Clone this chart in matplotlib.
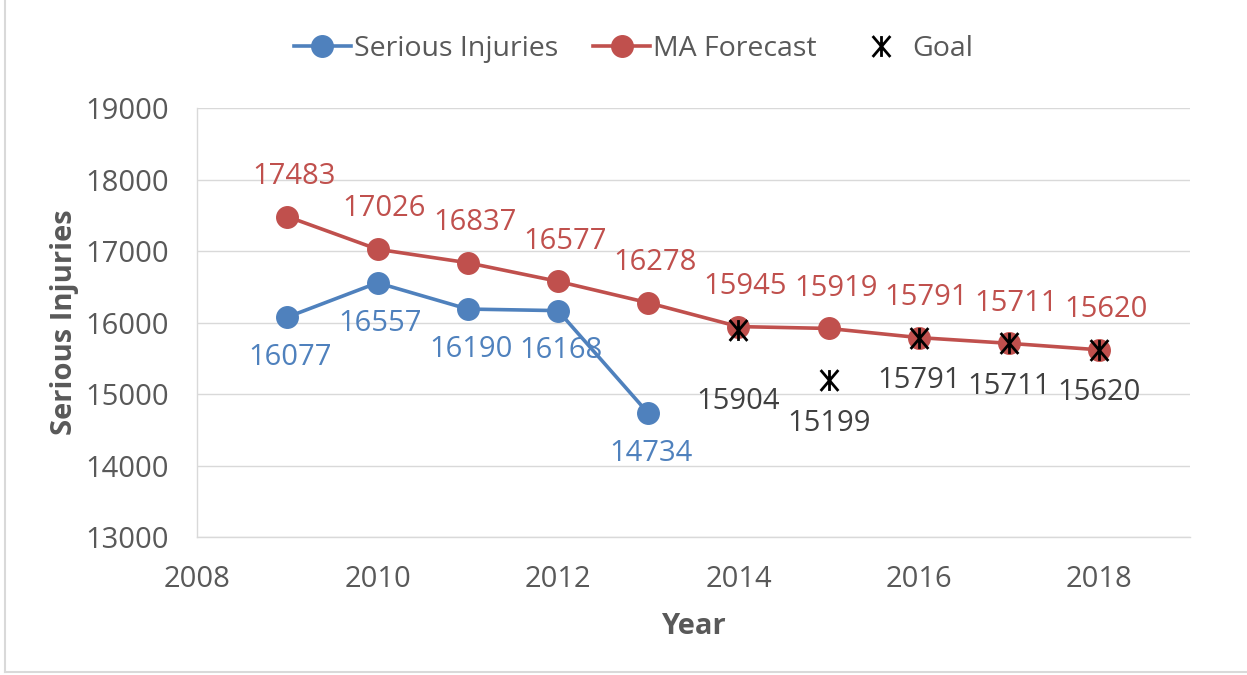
import matplotlib.pyplot as plt
from matplotlib.lines import Line2D
from matplotlib.path import Path

plt.rcParams['font.family'] = ['Open Sans', 'DejaVu Sans']

# data
years_actual = [2009, 2010, 2011, 2012, 2013]
injuries = [16077, 16557, 16190, 16168, 14734]

years_ma = [2009, 2010, 2011, 2012, 2013, 2014, 2015, 2016, 2017, 2018]
ma_forecast = [17483, 17026, 16837, 16577, 16278, 15945, 15919, 15791, 15711, 15620]

years_goal = [2014, 2015, 2016, 2017, 2018]
goal = [15904, 15199, 15791, 15711, 15620]

blue = '#4F81BD'
red = '#C0504D'
grey_txt = '#595959'

# Excel style "star": an X with a vertical stroke through it
star = Path([(-0.85, -1), (0.85, 1), (-0.85, 1), (0.85, -1), (0, -1), (0, 1)],
            [Path.MOVETO, Path.LINETO, Path.MOVETO, Path.LINETO,
             Path.MOVETO, Path.LINETO])

fig = plt.figure(figsize=(12.47, 6.75), dpi=100)
ax = fig.add_axes([0.158, 0.204, 0.796, 0.636])

ax.plot(years_actual, injuries, color=blue, lw=2.6, marker='o', ms=15.5,
        label='Serious Injuries', zorder=3)
ax.plot(years_ma, ma_forecast, color=red, lw=2.6, marker='o', ms=15.5,
        label='MA Forecast', zorder=3)
ax.plot(years_goal, goal, ls='none', marker=star, ms=15, mew=2,
        color='black', label='Goal', zorder=4)

# data labels (offsets in points)
fs = 21
for x, y in zip(years_actual, injuries):
    ax.annotate(str(y), (x, y), xytext=(2, -29), textcoords='offset points',
                ha='center', va='center', color=blue, fontsize=fs)
for x, y in zip(years_ma, ma_forecast):
    ax.annotate(str(y), (x, y), xytext=(5, 29), textcoords='offset points',
                ha='center', va='center', color=red, fontsize=fs)
goal_dy = [-52, -31, -31, -31, -31]
for x, y, dy in zip(years_goal, goal, goal_dy):
    ax.annotate(str(y), (x, y), xytext=(0, dy), textcoords='offset points',
                ha='center', va='center', color='#404040', fontsize=fs)

ax.set_xlim(2008, 2019)
ax.set_ylim(13000, 19000)
ax.set_xticks(range(2008, 2019, 2))
ax.set_yticks(range(13000, 19001, 1000))
ax.tick_params(length=0, labelsize=fs, colors=grey_txt)
ax.tick_params(axis='y', pad=20)
ax.tick_params(axis='x', pad=20)
ax.grid(axis='y', color='#D9D9D9', lw=1)
ax.set_axisbelow(True)
for s in ['top', 'right']:
    ax.spines[s].set_visible(False)
for s in ['left', 'bottom']:
    ax.spines[s].set_color('#D9D9D9')
    ax.spines[s].set_linewidth(1)

ax.set_xlabel('Year', fontsize=fs, fontweight='bold', color=grey_txt, labelpad=13)
ax.set_ylabel('Serious Injuries', fontsize=fs, fontweight='bold', color=grey_txt,
              labelpad=5)

fig.legend(loc='center', bbox_to_anchor=(0.508, 0.928), ncol=3, frameon=False,
           fontsize=20.5, labelcolor=grey_txt, handlelength=2.0, handletextpad=0.1,
           columnspacing=1.25)

# faint outer border of the pasted chart
fig.add_artist(Line2D([0.004, 0.004], [0.005, 1.0], color='#D9D9D9', lw=1.5))
fig.add_artist(Line2D([0.004, 1.0], [0.005, 0.005], color='#D9D9D9', lw=1.5))

fig.savefig('out.png', dpi=100)
